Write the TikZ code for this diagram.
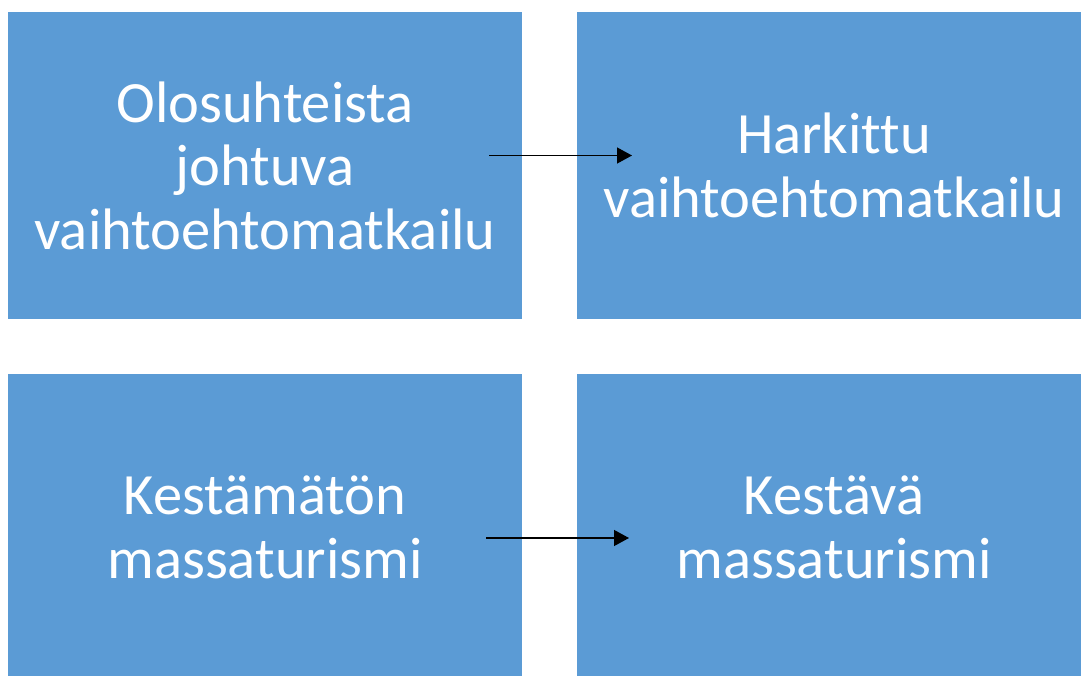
\documentclass[tikz,border=0pt]{standalone}
\usepackage{fontspec}
\setmainfont[Ligatures=NoCommon]{Carlito}
\usetikzlibrary{arrows.meta}
\definecolor{boxblue}{HTML}{5B9BD5}
\tikzset{
  card/.style={fill=boxblue, draw=none, text=white, inner sep=0pt,
    minimum width=514pt, minimum height=307pt, text width=500pt,
    align=center, font=\fontsize{58.5}{63.5}\selectfont},
  flow/.style={-{Triangle[length=15pt,width=16pt]}, line width=1.3pt}
}
\begin{document}
\begin{tikzpicture}[x=1pt,y=1pt]
    \useasboundingbox (0,0) rectangle (1081,675);
    \node (ol) at (265,509.5) [card] {Olosuhteista\\johtuva\\vaihtoehtomatkailu};
    \node (ha) at (834,509.5) [card] {Harkittu\\vaihtoehtomatkailu};
    \node (km) at (265,147.5) [card] {Kestämätön\\massaturismi};
    \node (ke) at (834,147.5) [card] {Kestävä\\massaturismi};
    \coordinate (ol1) at (489,519.5); \coordinate (ha1) at (632,519.5);
    \coordinate (km1) at (486,137); \coordinate (ke1) at (629,137);
    \draw[flow] (ol1) -- (ha1);
    \draw[flow] (km1) -- (ke1);
\end{tikzpicture}
\end{document}
